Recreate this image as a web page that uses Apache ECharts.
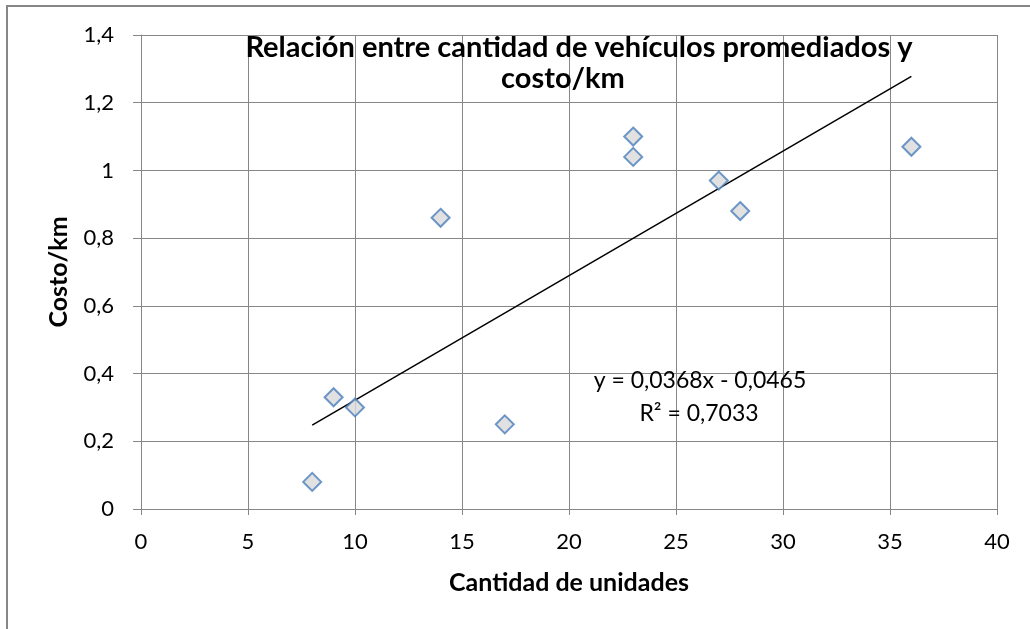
<!DOCTYPE html>
<html>
<head>
<meta charset="utf-8">
<style>
  html, body { margin: 0; padding: 0; background: #fff; }
  #chart { width: 1030px; height: 629px; }
</style>
<script src="https://cdn.jsdelivr.net/npm/echarts@6/dist/echarts.min.js"></script>
</head>
<body>
<div id="chart"></div>
<script>
// datos
const unidades = [8, 9, 10, 14, 17, 23, 23, 27, 28, 36]
const costoKm = [0.08, 0.33, 0.30, 0.86, 0.25, 1.10, 1.04, 0.97, 0.88, 1.07]
// línea de tendencia (extremos)
const tendenciaX = [8, 36]
const tendenciaY = [0.248, 1.278]
const xTicks = { min: 0, max: 40, step: 5 }
const yTicks = { min: 0, max: 1.4, step: 0.2 }

const FONT = 'Lato, "Open Sans", sans-serif'
const GRID_COLOR = '#878787'

const puntos = unidades.map((x, i) => [x, costoKm[i]])
const tendencia = tendenciaX.map((x, i) => [x, tendenciaY[i]])

const fmt = v => Number(v.toFixed(1)).toString().replace('.', ',')

let myChart = echarts.init(document.getElementById('chart'))
let option = {
  animation: false,
  backgroundColor: '#fff',
  grid: {
    left: 141,
    right: 33,
    top: 35,
    bottom: 120
  },
  xAxis: {
    type: 'value',
    min: xTicks.min,
    max: xTicks.max,
    interval: xTicks.step,
    name: 'Cantidad de unidades',
    nameLocation: 'middle',
    nameGap: 61,
    nameTextStyle: { fontFamily: FONT, fontWeight: 'bold', fontSize: 25, color: '#000' },
    axisLine: { show: true, lineStyle: { color: GRID_COLOR, width: 1 } },
    axisTick: { show: true, inside: false, length: 6, lineStyle: { color: GRID_COLOR } },
    axisLabel: { fontFamily: FONT, fontSize: 22, color: '#000', margin: 22 },
    splitLine: { show: true, lineStyle: { color: GRID_COLOR, width: 1 } }
  },
  yAxis: {
    type: 'value',
    min: yTicks.min,
    max: yTicks.max,
    interval: yTicks.step,
    name: 'Costo/km',
    nameLocation: 'middle',
    nameGap: 70,
    nameRotate: 90,
    nameTextStyle: { fontFamily: FONT, fontWeight: 'bold', fontSize: 25, color: '#000' },
    axisLine: { show: true, lineStyle: { color: GRID_COLOR, width: 1 } },
    axisTick: { show: true, inside: false, length: 8, lineStyle: { color: GRID_COLOR } },
    axisLabel: { fontFamily: FONT, fontSize: 22, color: '#000', margin: 27, formatter: fmt },
    splitLine: { show: true, lineStyle: { color: GRID_COLOR, width: 1 } }
  },
  series: [
    {
      type: 'line',
      data: tendencia,
      symbol: 'none',
      lineStyle: { color: '#000', width: 1.5 },
      z: 2
    },
    {
      type: 'scatter',
      data: puntos,
      symbol: 'diamond',
      symbolSize: 18,
      itemStyle: { color: '#d9d9d9', borderColor: '#4a7ebb', borderWidth: 2 },
      z: 3
    }
  ],
  graphic: [
    {
      type: 'rect',
      shape: { x: 7, y: 6, width: 1100, height: 700 },
      style: { fill: 'none', stroke: GRID_COLOR, lineWidth: 2 },
      silent: true
    },
    {
      type: 'text',
      x: 579,
      y: 48,
      z: 10,
      style: {
        text: 'Relación entre cantidad de vehículos promediados y',
        fontFamily: FONT,
        fontWeight: 'bold',
        fontSize: 29,
        textAlign: 'center',
        textVerticalAlign: 'middle',
        fill: '#000'
      }
    },
    {
      type: 'text',
      x: 563,
      y: 79,
      z: 10,
      style: {
        text: 'costo/km',
        fontFamily: FONT,
        fontWeight: 'bold',
        fontSize: 29,
        textAlign: 'center',
        textVerticalAlign: 'middle',
        fill: '#000'
      }
    },
    {
      type: 'text',
      x: 700,
      y: 381,
      z: 10,
      style: {
        text: 'y = 0,0368x - 0,0465',
        fontFamily: FONT,
        fontSize: 23,
        textAlign: 'center',
        textVerticalAlign: 'middle',
        fill: '#000'
      }
    },
    {
      type: 'text',
      x: 699,
      y: 414,
      z: 10,
      style: {
        text: 'R² = 0,7033',
        fontFamily: FONT,
        fontSize: 23,
        textAlign: 'center',
        textVerticalAlign: 'middle',
        fill: '#000'
      }
    }
  ]
}
myChart.setOption(option)
</script>
</body>
</html>
